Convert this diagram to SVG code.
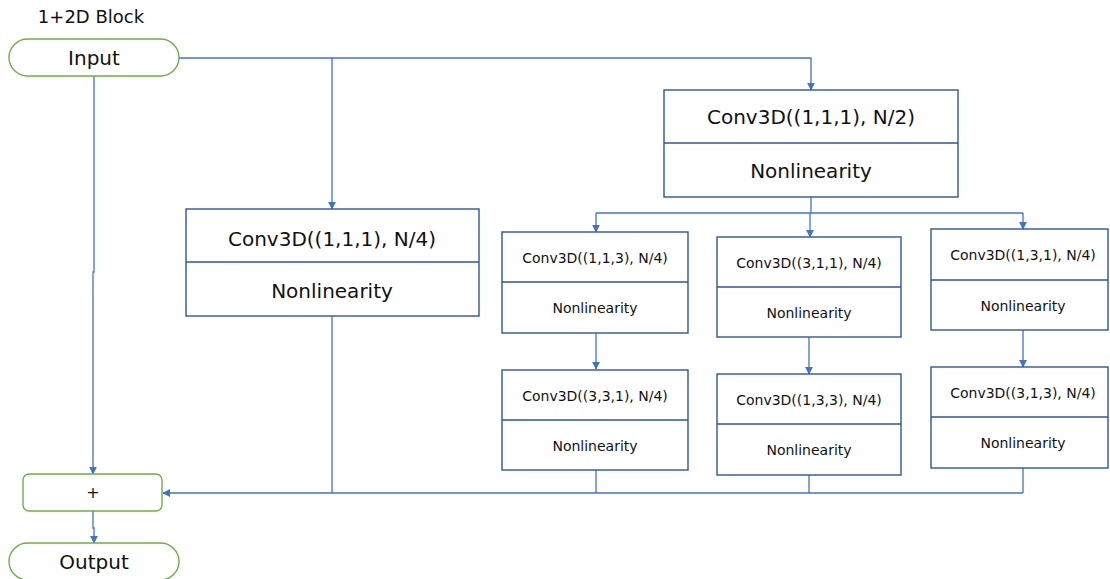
<svg xmlns="http://www.w3.org/2000/svg" width="1110" height="579" viewBox="0 0 1110 579">
  <style>
    .lbl { font-family: "DejaVu Sans", "Noto Sans", sans-serif; fill: #111; text-anchor: middle; dominant-baseline: central; }
    .big { font-size: 20px; }
    .small { font-size: 14px; }
    .term { fill: #fff; stroke: #70AD47; stroke-width: 1.4; }
    .box { fill: #fff; stroke: #2F5597; stroke-width: 1.4; }
    .wire { fill: none; stroke: #4472C4; stroke-width: 1.3; }
  </style>
  <defs>
    <marker id="arrow" viewBox="0 0 10 10" refX="9" refY="5" markerWidth="8" markerHeight="8" markerUnits="userSpaceOnUse" orient="auto">
      <path d="M0,0 L10,5 L0,10 z" fill="#4472C4"/>
    </marker>
  </defs>

  <text class="lbl" x="91" y="16" style="font-size:18px">1+2D Block</text>

  <!-- connectors -->
  <g id="connectors">
    <path class="wire" d="M179,58 H811 V90" marker-end="url(#arrow)"/>
    <path class="wire" d="M332,58 V209" marker-end="url(#arrow)"/>
    <path class="wire" d="M94,76 V272 H93 V474" marker-end="url(#arrow)"/>
    <path class="wire" d="M811,197 V213"/>
    <path class="wire" d="M596,213 H1023"/>
    <path class="wire" d="M596,213 V232" marker-end="url(#arrow)"/>
    <path class="wire" d="M810,213 V237" marker-end="url(#arrow)"/>
    <path class="wire" d="M1023,213 V229" marker-end="url(#arrow)"/>
    <path class="wire" d="M596,333 V369" marker-end="url(#arrow)"/>
    <path class="wire" d="M809,337 V374" marker-end="url(#arrow)"/>
    <path class="wire" d="M1023,330 V367" marker-end="url(#arrow)"/>
    <path class="wire" d="M596,469 V493"/>
    <path class="wire" d="M809,475 V493"/>
    <path class="wire" d="M1023,468 V493"/>
    <path class="wire" d="M332,316 V493"/>
    <path class="wire" d="M1023,493 H163" marker-end="url(#arrow)"/>
    <path class="wire" d="M93,511 V528 H94 V543" marker-end="url(#arrow)"/>
  </g>

  <g id="input">
    <rect class="term" x="9" y="39" width="170" height="37" rx="18.5"/>
    <text class="lbl big" x="94" y="58">Input</text>
  </g>

  <g id="conv-reduce-half">
    <rect class="box" x="664" y="90" width="294" height="107"/>
    <line class="box" x1="664" y1="143" x2="958" y2="143"/>
    <text class="lbl big" x="811" y="117">Conv3D((1,1,1), N/2)</text>
    <text class="lbl big" x="811" y="171">Nonlinearity</text>
  </g>

  <g id="conv-reduce-quarter">
    <rect class="box" x="186" y="209" width="293" height="107"/>
    <line class="box" x1="186" y1="262" x2="479" y2="262"/>
    <text class="lbl big" x="332" y="239">Conv3D((1,1,1), N/4)</text>
    <text class="lbl big" x="332" y="291">Nonlinearity</text>
  </g>

  <g id="conv-113">
    <rect class="box" x="502" y="232" width="186" height="101"/>
    <line class="box" x1="502" y1="282" x2="688" y2="282"/>
    <text class="lbl small" x="595" y="258">Conv3D((1,1,3), N/4)</text>
    <text class="lbl small" x="595" y="308">Nonlinearity</text>
  </g>

  <g id="conv-311">
    <rect class="box" x="717" y="237" width="184" height="100"/>
    <line class="box" x1="717" y1="287" x2="901" y2="287"/>
    <text class="lbl small" x="809" y="263">Conv3D((3,1,1), N/4)</text>
    <text class="lbl small" x="809" y="313">Nonlinearity</text>
  </g>

  <g id="conv-131">
    <rect class="box" x="931" y="229" width="177" height="101"/>
    <line class="box" x1="931" y1="280" x2="1108" y2="280"/>
    <text class="lbl small" x="1023" y="255">Conv3D((1,3,1), N/4)</text>
    <text class="lbl small" x="1023" y="306">Nonlinearity</text>
  </g>

  <g id="conv-331">
    <rect class="box" x="502" y="370" width="186" height="100"/>
    <line class="box" x1="502" y1="420" x2="688" y2="420"/>
    <text class="lbl small" x="595" y="396">Conv3D((3,3,1), N/4)</text>
    <text class="lbl small" x="595" y="446">Nonlinearity</text>
  </g>

  <g id="conv-133">
    <rect class="box" x="717" y="374" width="184" height="101"/>
    <line class="box" x1="717" y1="424" x2="901" y2="424"/>
    <text class="lbl small" x="809" y="400">Conv3D((1,3,3), N/4)</text>
    <text class="lbl small" x="809" y="450">Nonlinearity</text>
  </g>

  <g id="conv-313">
    <rect class="box" x="931" y="367" width="177" height="101"/>
    <line class="box" x1="931" y1="417" x2="1108" y2="417"/>
    <text class="lbl small" x="1023" y="393">Conv3D((3,1,3), N/4)</text>
    <text class="lbl small" x="1023" y="443">Nonlinearity</text>
  </g>

  <g id="sum">
    <rect class="term" x="23" y="474" width="139" height="37" rx="6"/>
    <text class="lbl" x="93" y="492" style="font-size:16px">+</text>
  </g>

  <g id="output">
    <rect class="term" x="9" y="543" width="170" height="37" rx="18.5"/>
    <text class="lbl big" x="94" y="562">Output</text>
  </g>
</svg>
